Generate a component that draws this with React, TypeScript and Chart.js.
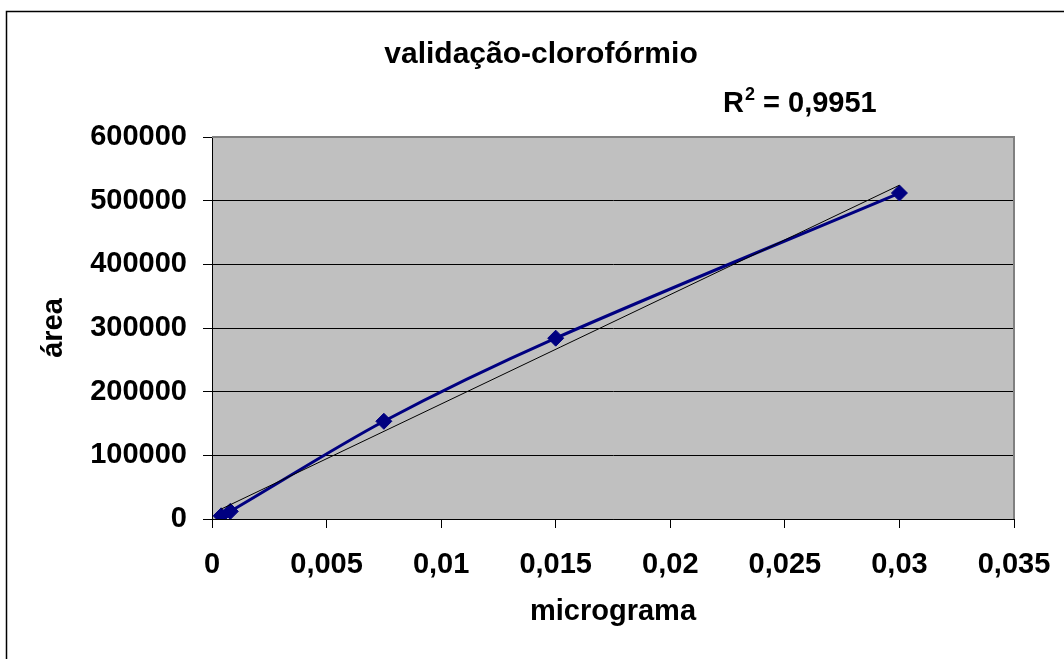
import { useEffect, useRef } from 'react';
import { Chart, registerables } from 'chart.js';

Chart.register(...registerables);

// ---- data ----
const chartTitle = 'validação-clorofórmio';
const xAxisTitle = 'micrograma';
const yAxisTitle = 'área';
const r2Text = '0,9951';
const xValues = [0.0004, 0.0008, 0.0075, 0.015, 0.03];
const yValues = [5000, 12000, 153500, 284000, 512000];
const xTickMin = 0;
const xTickMax = 0.035;
const xTickStep = 0.005;
const yTickMin = 0;
const yTickMax = 600000;
const yTickStep = 100000;

const FONT = '"Liberation Sans", Arial, sans-serif';
const FS = 29;

// least-squares linear trendline (what the spreadsheet trendline shows)
function linearFit(xs: number[], ys: number[]) {
  const n = xs.length;
  const mx = xs.reduce((a, b) => a + b, 0) / n;
  const my = ys.reduce((a, b) => a + b, 0) / n;
  let sxy = 0, sxx = 0;
  for (let i = 0; i < n; i++) {
    sxy += (xs[i] - mx) * (ys[i] - my);
    sxx += (xs[i] - mx) * (xs[i] - mx);
  }
  const slope = sxy / sxx;
  return { slope, intercept: my - slope * mx };
}

function fmt(v: number) {
  const r = Number(v.toFixed(6));
  return String(r).replace('.', ',');
}

const decorPlugin = {
  id: 'decor',
  beforeDraw(chart: any) {
    const { ctx, chartArea: a } = chart;
    ctx.save();
    ctx.fillStyle = '#ffffff';
    ctx.fillRect(0, 0, chart.width, chart.height);
    ctx.fillStyle = '#C0C0C0';
    ctx.fillRect(a.left, a.top, a.right - a.left, a.bottom - a.top);
    ctx.restore();
  },
  beforeDatasetsDraw(chart: any) {
    const { ctx, chartArea: a } = chart;
    ctx.save();
    ctx.strokeStyle = '#808080';
    ctx.lineWidth = 2;
    ctx.beginPath();
    ctx.moveTo(a.left, a.top);
    ctx.lineTo(a.right, a.top);
    ctx.lineTo(a.right, a.bottom);
    ctx.stroke();
    ctx.restore();
  },
  afterDraw(chart: any) {
    const { ctx } = chart;
    ctx.save();
    // outer frame
    ctx.strokeStyle = '#000';
    ctx.lineWidth = 1.5;
    ctx.strokeRect(6.5, 11.5, chart.width + 10, chart.height + 10);
    // title
    ctx.fillStyle = '#000';
    ctx.font = `bold 30px ${FONT}`;
    ctx.textAlign = 'center';
    ctx.textBaseline = 'alphabetic';
    ctx.fillText(chartTitle, 541, 63);
    // R^2 label
    ctx.font = `bold ${FS}px ${FONT}`;
    ctx.textAlign = 'left';
    let x = 723;
    const base = 112;
    ctx.fillText('R', x, base);
    x += ctx.measureText('R').width + 1;
    ctx.font = `bold ${Math.round(FS * 0.62)}px ${FONT}`;
    ctx.fillText('2', x, base - 12);
    x += ctx.measureText('2').width;
    ctx.font = `bold ${FS}px ${FONT}`;
    ctx.fillText(' = ' + r2Text, x, base);
    ctx.restore();
  },
};

export default function App() {
  const ref = useRef<HTMLCanvasElement | null>(null);

  useEffect(() => {
    document.body.style.margin = '0';
    const canvas = ref.current;
    if (!canvas) return;
    const { slope, intercept } = linearFit(xValues, yValues);
    const xMin = Math.min(...xValues);
    const xMax = Math.max(...xValues);
    const trend = [
      { x: xMin, y: intercept + slope * xMin },
      { x: xMax, y: intercept + slope * xMax },
    ];
    const pts = xValues.map((x, i) => ({ x, y: yValues[i] }));
    const tickFont = { family: FONT, size: FS, weight: 'bold' as const };

    const chart = new Chart(canvas, {
      type: 'scatter',
      data: {
        datasets: [
          {
            label: 'trend',
            data: trend,
            showLine: true,
            borderColor: '#000000',
            borderWidth: 1,
            pointRadius: 0,
            tension: 0,
          },
          {
            label: 'área',
            data: pts,
            showLine: true,
            borderColor: '#000080',
            backgroundColor: '#000080',
            borderWidth: 3,
            pointStyle: 'rectRot',
            pointRadius: 8,
            pointBorderWidth: 1,
            pointBorderColor: '#000080',
            pointBackgroundColor: '#000080',
            tension: 0.3,
          },
        ],
      },
      options: {
        responsive: false,
        animation: false,
        layout: { padding: { top: 137, right: 50, left: 0, bottom: 0 } },
        plugins: {
          legend: { display: false },
          tooltip: { enabled: false },
          title: { display: false },
        },
        scales: {
          x: {
            type: 'linear',
            min: xTickMin,
            max: xTickMax,
            ticks: {
              stepSize: xTickStep,
              color: '#000',
              font: tickFont,
              padding: 20,
              maxRotation: 0,
              callback: (v: any) => fmt(Number(v)),
            },
            grid: {
              drawOnChartArea: false,
              drawTicks: true,
              tickLength: 9,
              tickColor: '#000',
            },
            border: { display: true, color: '#000', width: 1 },
            title: {
              display: true,
              text: xAxisTitle,
              color: '#000',
              font: tickFont,
              padding: { top: 0, bottom: 30 },
            },
            afterFit: (s: any) => {
              s.height = 140;
              s.paddingLeft = 0;
              s.paddingRight = 0;
            },
          },
          y: {
            type: 'linear',
            min: yTickMin,
            max: yTickMax,
            ticks: {
              stepSize: yTickStep,
              color: '#000',
              font: tickFont,
              padding: 16,
              callback: (v: any) => String(v),
            },
            grid: {
              drawOnChartArea: true,
              drawTicks: true,
              tickLength: 9,
              tickColor: '#000',
              color: (c: any) => (c.tick && c.tick.value === yTickMax ? 'rgba(0,0,0,0)' : '#000'),
              lineWidth: 1,
            },
            border: { display: true, color: '#000', width: 1 },
            title: {
              display: true,
              text: yAxisTitle,
              color: '#000',
              font: tickFont,
              padding: { top: 37, bottom: 0 },
            },
            afterFit: (s: any) => {
              s.width = 212;
              s.paddingTop = 0;
              s.paddingBottom = 0;
            },
          },
        },
      },
      plugins: [decorPlugin],
    });
    return () => chart.destroy();
  }, []);

  return (
    <div style={{ position: 'absolute', left: 0, top: 0, width: 1064, height: 659 }}>
      <canvas ref={ref} width={1064} height={659} />
    </div>
  );
}
